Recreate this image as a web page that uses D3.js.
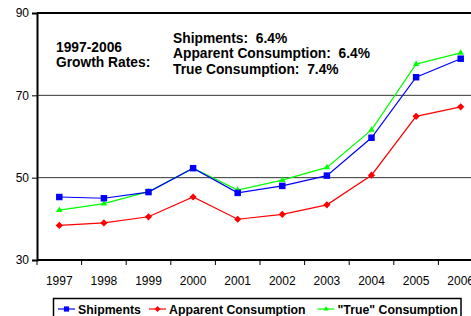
<!DOCTYPE html>
<html>
<head>
<meta charset="utf-8">
<script src="https://cdn.jsdelivr.net/npm/d3@7"></script>
<style>
  html, body { margin: 0; padding: 0; background: #fff; }
  svg { display: block; font-family: Arial, "Liberation Sans", sans-serif; }
</style>
</head>
<body>
<svg id="chart" width="471" height="316"></svg>
<script>
const years = ['1997', '1998', '1999', '2000', '2001', '2002', '2003', '2004', '2005', '2006'];
const shipments = [45.3, 45.0, 46.5, 52.3, 46.3, 48.0, 50.5, 59.7, 74.4, 78.9];
const apparent = [38.4, 39.0, 40.5, 45.3, 39.9, 41.1, 43.4, 50.6, 64.9, 67.2];
const trueCons = [42.1, 43.7, 46.6, 52.3, 47.0, 49.4, 52.5, 61.6, 77.6, 80.3];
const yTicks = [30, 50, 70, 90];
const growthLines = ['Shipments:  6.4%', 'Apparent Consumption:  6.4%', 'True Consumption:  7.4%'];

const series = [
  { name: 'Shipments', values: shipments, color: '#0000ff', marker: 'square' },
  { name: 'Apparent Consumption', values: apparent, color: '#ff0000', marker: 'diamond' },
  { name: '"True" Consumption', values: trueCons, color: '#00ff00', marker: 'triangle' },
];

const svg = d3.select('#chart');
const plotLeft = 37, plotRight = 483, plotTop = 13, plotBottom = 260;

const x = d3.scaleBand().domain(years).range([plotLeft, plotRight]).padding(0);
const y = d3.scaleLinear().domain([30, 90]).range([plotBottom, plotTop]);

// gridlines
svg.append('g')
  .selectAll('line')
  .data(yTicks.filter(t => t !== 30 && t !== 90))
  .join('line')
  .attr('x1', plotLeft).attr('x2', plotRight)
  .attr('y1', d => y(d)).attr('y2', d => y(d))
  .attr('stroke', '#333').attr('stroke-width', 1);

// top border
svg.append('line')
  .attr('x1', plotLeft).attr('x2', plotRight)
  .attr('y1', y(90)).attr('y2', y(90))
  .attr('stroke', '#000').attr('stroke-width', 2);

// y axis
const yAxis = svg.append('g')
  .attr('transform', `translate(${plotLeft},0)`)
  .call(d3.axisLeft(y).tickValues(yTicks).tickSize(5).tickPadding(3).tickFormat(d3.format('d')));
yAxis.select('.domain').attr('stroke', '#000').attr('stroke-width', 2);
yAxis.selectAll('.tick line').attr('stroke', '#000');
yAxis.selectAll('.tick text')
  .attr('font-size', 12).attr('fill', '#000')
  .attr('font-family', 'Arial, "Liberation Sans", sans-serif');

// x axis with ticks between categories
const xAxisG = svg.append('g').attr('transform', `translate(0,${plotBottom})`);
xAxisG.append('line')
  .attr('x1', plotLeft).attr('x2', plotRight)
  .attr('stroke', '#000').attr('stroke-width', 2);
xAxisG.selectAll('line.tk')
  .data(years)
  .join('line')
  .attr('class', 'tk')
  .attr('x1', d => x(d)).attr('x2', d => x(d))
  .attr('y1', 0).attr('y2', 5)
  .attr('stroke', '#000');
xAxisG.selectAll('text')
  .data(years)
  .join('text')
  .attr('x', d => x(d) + x.bandwidth() / 2)
  .attr('y', 25)
  .attr('text-anchor', 'middle')
  .attr('font-size', 12)
  .text(d => d);

// lines
const cx = i => x(years[i]) + x.bandwidth() / 2;
const line = d3.line().x((d, i) => cx(i)).y(d => y(d));

const markerPath = {
  square: d3.symbol(d3.symbolSquare, 42)(),
  diamond: 'M0,-3.6L3.6,0L0,3.6L-3.6,0Z',
  triangle: d3.symbol(d3.symbolTriangle, 18)(),
};

// draw in order so blue sits above green
const drawOrder = [series[1], series[2], series[0]];
for (const s of drawOrder) {
  const g = svg.append('g');
  g.append('path')
    .datum(s.values)
    .attr('d', line)
    .attr('fill', 'none')
    .attr('stroke', s.color)
    .attr('stroke-width', 1.2);
  g.selectAll('path.m')
    .data(s.values)
    .join('path')
    .attr('class', 'm')
    .attr('d', markerPath[s.marker])
    .attr('transform', (d, i) => `translate(${cx(i)},${y(d)})`)
    .attr('fill', s.color);
}

// annotation
const ann = svg.append('g').attr('font-size', 13.8).attr('font-weight', 'bold');
ann.append('text').attr('x', 56).attr('y', 51.5).text('1997-2006');
ann.append('text').attr('x', 56).attr('y', 66.5).text('Growth Rates:');
ann.selectAll('text.gr')
  .data(growthLines)
  .join('text')
  .attr('class', 'gr')
  .attr('x', 173)
  .attr('y', (d, i) => 42.5 + i * 15.5)
  .style('white-space', 'pre')
  .text(d => d);

// legend
const lg = svg.append('g');
lg.append('rect')
  .attr('x', 53.5).attr('y', 298.5)
  .attr('width', 407.5).attr('height', 30)
  .attr('fill', '#fff').attr('stroke', '#000').attr('stroke-width', 1.5);
const legendX = [58, 149, 317.5];
series.forEach((s, i) => {
  const gx = legendX[i];
  const gy = 309;
  lg.append('line')
    .attr('x1', gx).attr('x2', gx + 17)
    .attr('y1', gy).attr('y2', gy)
    .attr('stroke', s.color).attr('stroke-width', 1.2);
  lg.append('path')
    .attr('d', markerPath[s.marker])
    .attr('transform', `translate(${gx + 8.5},${gy}) scale(0.8)`)
    .attr('fill', s.color);
  lg.append('text')
    .attr('x', gx + 20)
    .attr('y', gy + 4.5)
    .attr('font-size', 12.3)
    .attr('font-weight', 'bold')
    .text(s.name);
});
</script>
</body>
</html>
